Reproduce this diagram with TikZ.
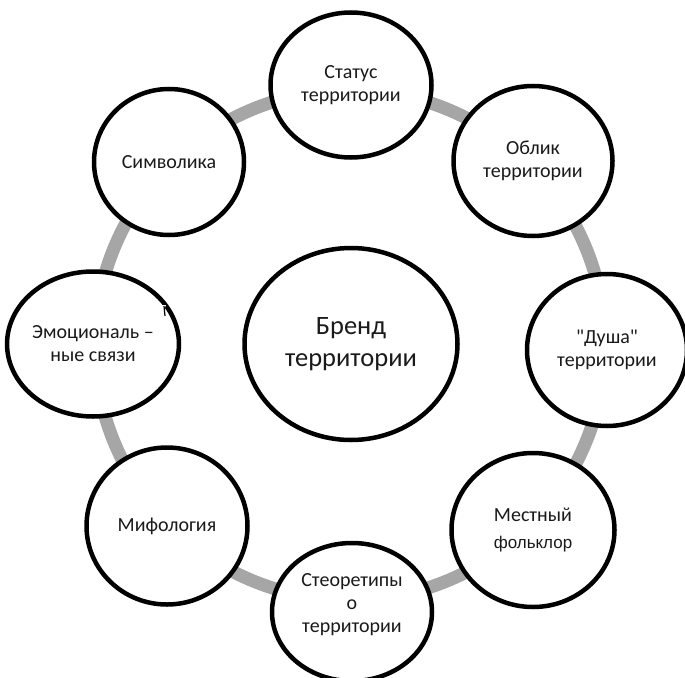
\documentclass[tikz,border=0pt]{standalone}
\usepackage{fontspec}
\setmainfont{Carlito}
\newfontfamily\arialfont{Liberation Sans}
\usetikzlibrary{shapes.geometric}
\definecolor{ringgray}{HTML}{A6A6A6}
\definecolor{txt}{HTML}{1A1A1A}
\tikzset{
  bubble/.style={ellipse, draw=black, line width=4.5pt, fill=white, inner sep=0pt,
    align=center, text=txt, font=\fontsize{20}{23}\selectfont},
  hub/.style={bubble, font=\fontsize{26.5}{32}\selectfont},
  lbl/.style={align=center, text=txt, inner sep=0pt, font=\fontsize{20}{23}\selectfont},
  ring/.style={draw=ringgray, line width=13pt}
}
\begin{document}
\begin{tikzpicture}[x=1pt,y=-1pt]
\useasboundingbox (0,0) rectangle (685,677);
\coordinate (rc) at (350,345);
\draw[ring] (rc) circle[radius=255];
\node[hub, minimum width=213pt, minimum height=192pt] (brand) at (351,344) {Бренд\\территории};
\node[bubble, minimum width=161pt, minimum height=145pt] (status) at (351,85) {Статус\\территории};
\node[bubble, minimum width=159pt, minimum height=150pt] (oblik) at (533,161) {Облик\\территории};
\node[bubble, minimum width=160pt, minimum height=152pt] (dusha) at (607,350) {\textquotedbl Душа\textquotedbl\\территории};
\node[bubble, minimum width=163pt, minimum height=154pt] (folk) at (533,530) {Местный\\[4pt]{\arialfont\fontsize{17}{20}\selectfont фольклор}};
\node[bubble, minimum width=160pt, minimum height=138pt] (stereo) at (352,612) {};
\node[lbl] (stereotext) at (352,605) {Стеоретипы\\о\\территории};
\node[bubble, minimum width=161pt, minimum height=157pt] (myth) at (167,526) {Мифология};
\node[bubble, minimum width=163pt, minimum height=145pt] (emo) at (93,344) {Эмоциональ –\\ные связи};
\node[bubble, minimum width=150pt, minimum height=146pt] (symb) at (169,162) {Символика};
% small artifact on the border of the emotion bubble
\coordinate (a1) at (157,305);
\coordinate (a2) at (166,305);
\coordinate (a3) at (163,312);
\coordinate (a4) at (164,306);
\coordinate (a5) at (165,316);
\fill[white] (a1) -- (a2) -- (a3) -- cycle;
\draw[black, line width=1.2pt] (a4) -- (a5);
\end{tikzpicture}
\end{document}
